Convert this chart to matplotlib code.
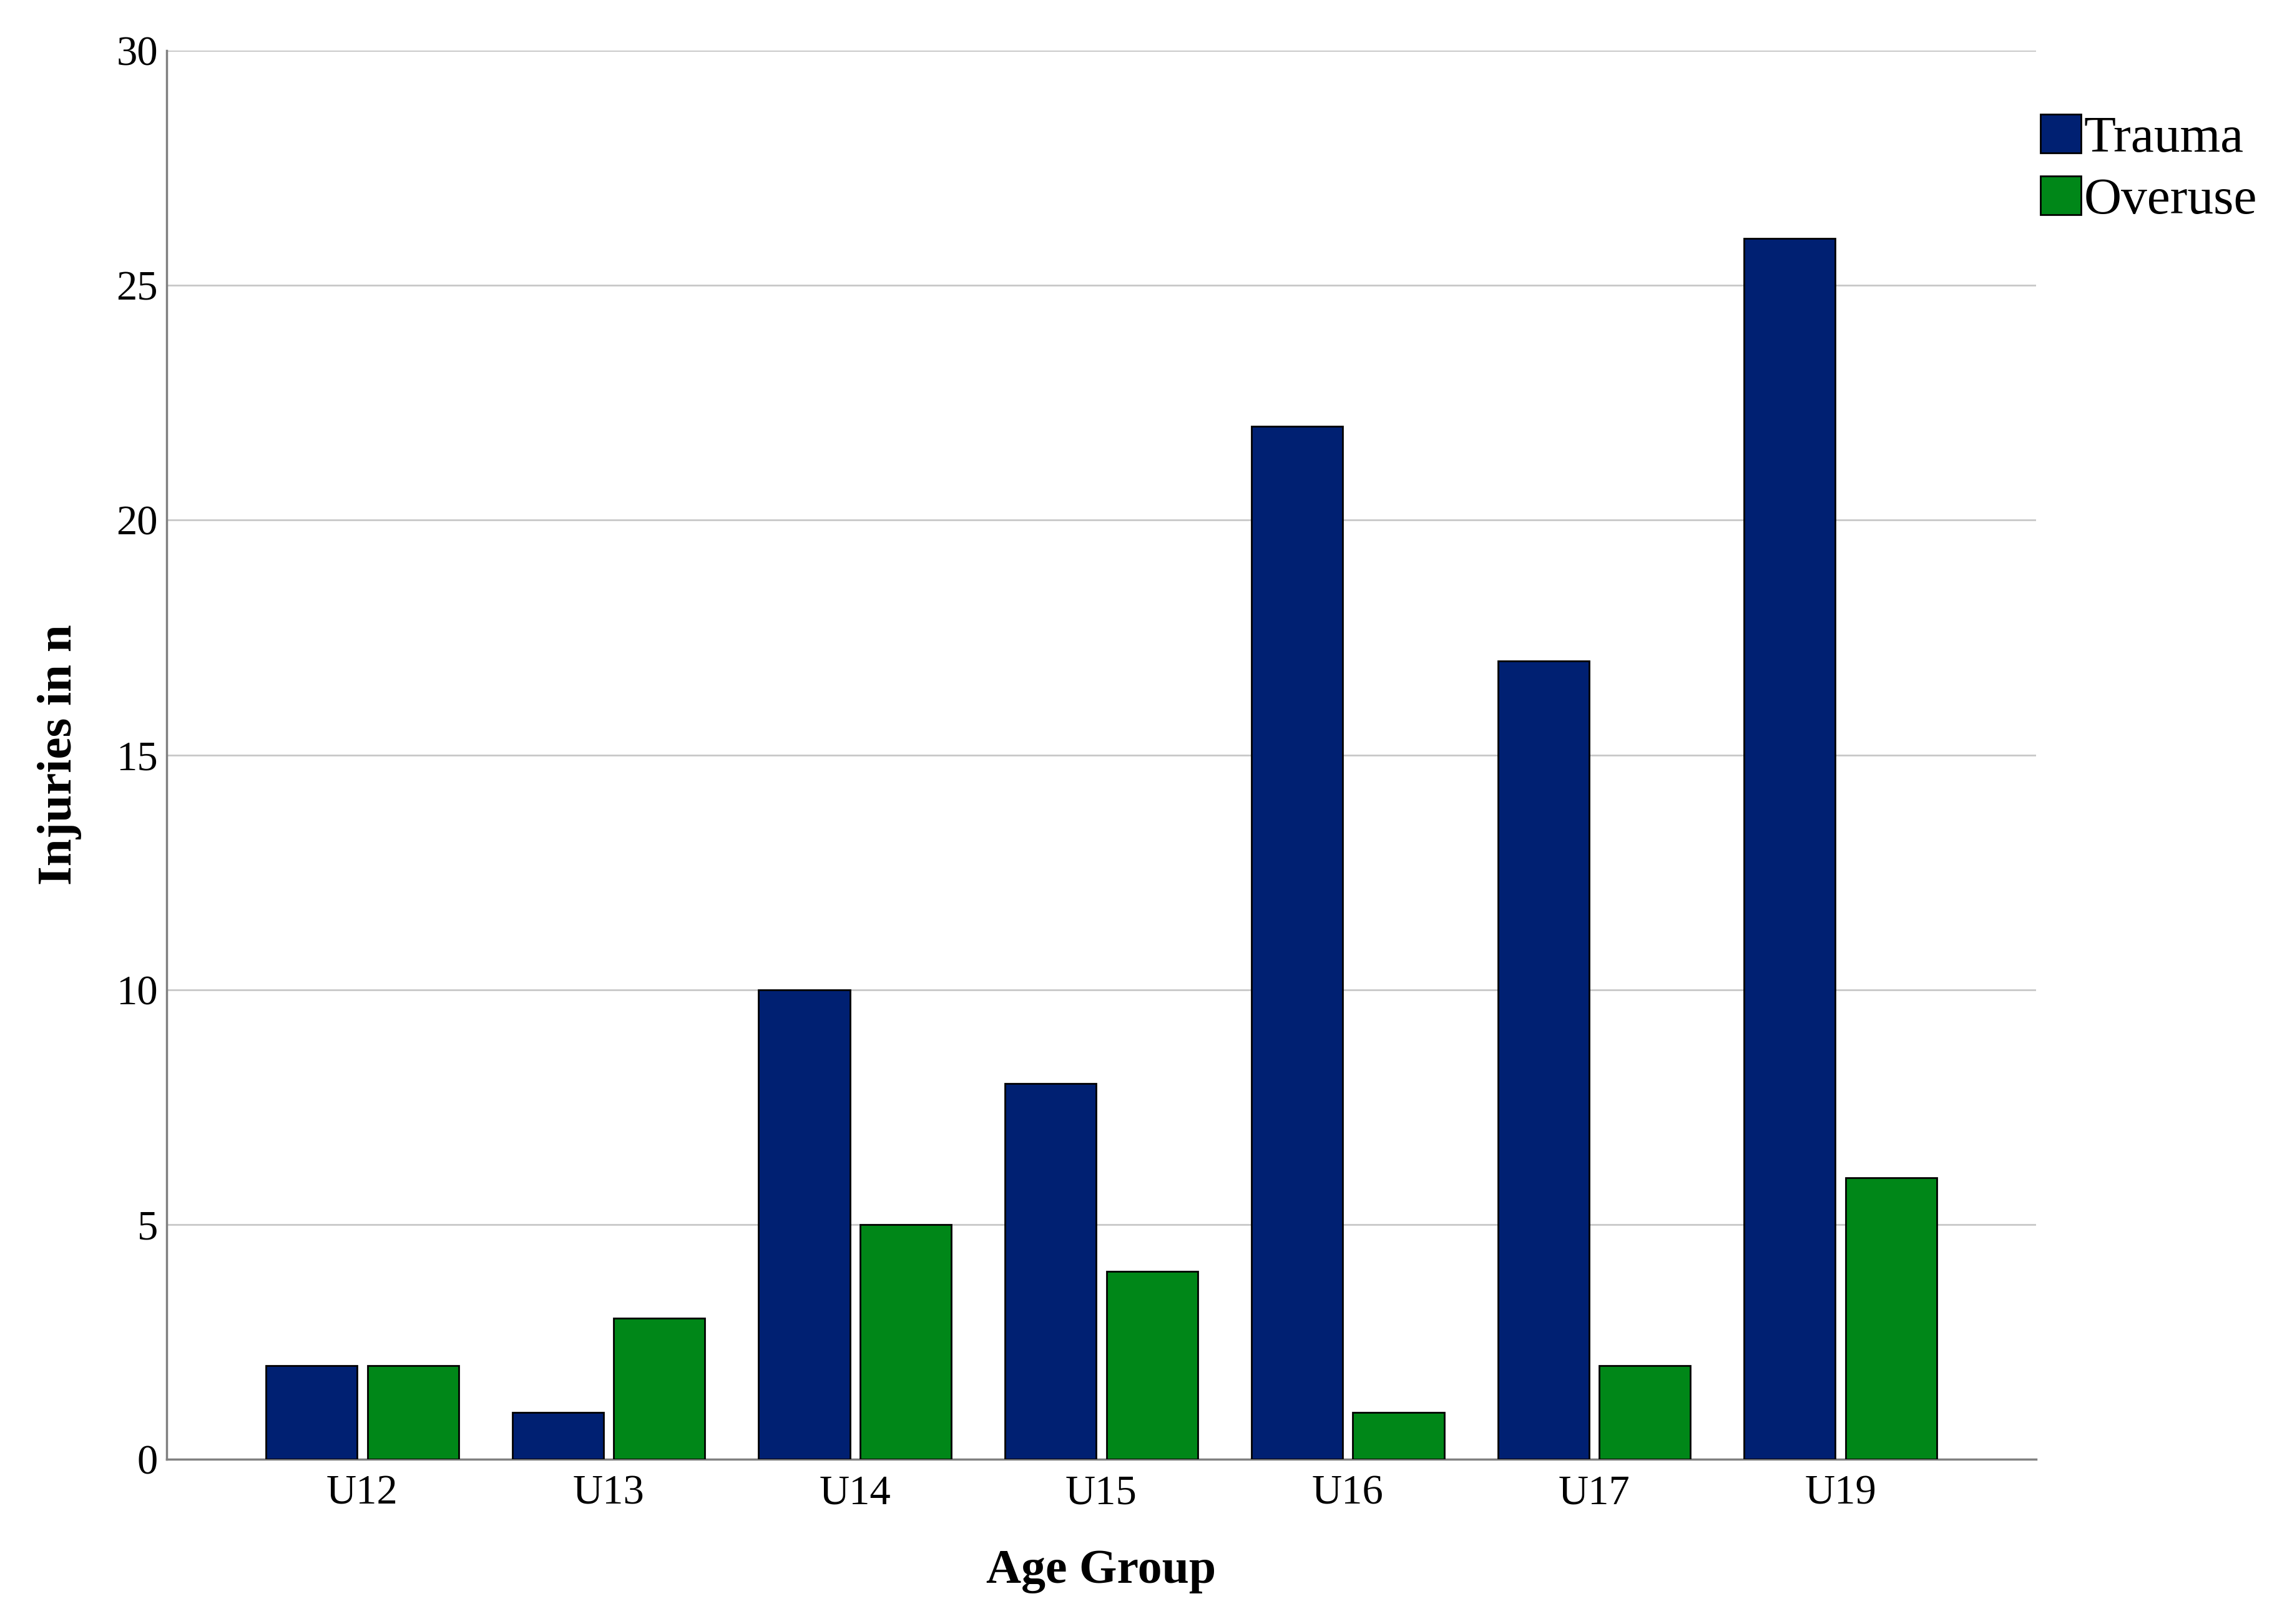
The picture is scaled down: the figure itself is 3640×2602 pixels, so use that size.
import matplotlib
matplotlib.use("Agg")
import matplotlib.pyplot as plt
import numpy as np

# Datos
grupos = ['U12', 'U13', 'U14', 'U15', 'U16', 'U17', 'U19']
trauma = [2, 1, 10, 8, 22, 17, 26]
overuse = [2, 3, 5, 4, 1, 2, 6]

color_trauma = '#002072'
color_overuse = '#008718'

plt.rcParams['font.family'] = ['Liberation Serif', 'DejaVu Serif']

fig = plt.figure(figsize=(36.4, 26.02), dpi=100)
ax = fig.add_axes([267/3640, 1-2338/2602, (3262-267)/3640, (2338-81)/2602])

x = np.arange(len(grupos))
ancho = 0.37
ax.bar(x - 0.206, trauma, ancho, color=color_trauma, edgecolor='black', linewidth=2, label='Trauma', zorder=3)
ax.bar(x + 0.206, overuse, ancho, color=color_overuse, edgecolor='black', linewidth=2, label='Overuse', zorder=3)

ax.set_xlim(-0.794, 6.794)
ax.set_ylim(0, 30)
ax.set_yticks(range(0, 31, 5))
ax.set_xticks(x)
ax.set_xticklabels(grupos)
ax.yaxis.grid(True, color='#c8c8c8', linewidth=2, zorder=0)
ax.set_axisbelow(True)

for s in ['top', 'right']:
    ax.spines[s].set_visible(False)
for s in ['left', 'bottom']:
    ax.spines[s].set_color('#808080')
    ax.spines[s].set_linewidth(2.5)

ax.tick_params(axis='both', length=0, labelsize=48)
ax.tick_params(axis='x', pad=18)
ax.tick_params(axis='y', pad=10)
ax.set_xlabel('Age Group', fontsize=56, fontweight='bold', labelpad=42)
ax.set_ylabel('Injuries in n', fontsize=57, fontweight='bold', labelpad=40)

ax.legend(loc='upper left', bbox_to_anchor=(1.0 + 7/2995, 0.955), frameon=False, fontsize=60,
          handlelength=0.78, handleheight=0.78, handletextpad=0.05, labelspacing=0.25,
          borderpad=0, borderaxespad=0)

fig.savefig('out.png', dpi=100)
